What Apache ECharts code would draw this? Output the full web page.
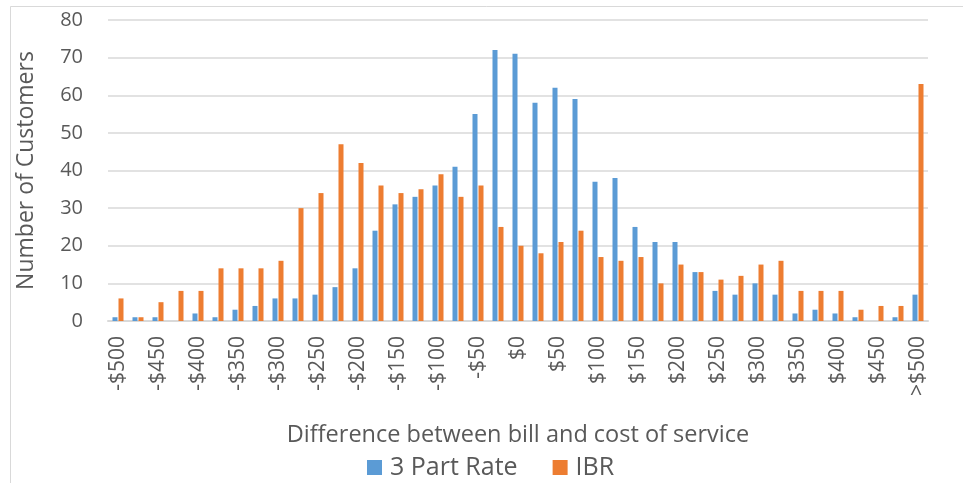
<!DOCTYPE html>
<html>
<head>
<meta charset="utf-8">
<script src="https://cdn.jsdelivr.net/npm/echarts@6/dist/echarts.min.js"></script>
<style>
  html, body { margin: 0; padding: 0; background: #fff; }
  #chart { width: 963px; height: 483px; }
</style>
</head>
<body>
<div id="chart"></div>
<script>
// Bins of (bill - cost of service), $25 wide, with an overflow bin at the end
const categories = [
  '-$500', '-$475', '-$450', '-$425', '-$400', '-$375', '-$350', '-$325', '-$300', '-$275',
  '-$250', '-$225', '-$200', '-$175', '-$150', '-$125', '-$100', '-$75', '-$50', '-$25',
  '$0', '$25', '$50', '$75', '$100', '$125', '$150', '$175', '$200', '$225',
  '$250', '$275', '$300', '$325', '$350', '$375', '$400', '$425', '$450', '$475',
  '>$500'
];

const threePartRate = [
  1, 1, 1, 0, 2, 1, 3, 4, 6, 6,
  7, 9, 14, 24, 31, 33, 36, 41, 55, 72,
  71, 58, 62, 59, 37, 38, 25, 21, 21, 13,
  8, 7, 10, 7, 2, 3, 2, 1, 0, 1,
  7
];

const ibr = [
  6, 1, 5, 8, 8, 14, 14, 14, 16, 30,
  34, 47, 42, 36, 34, 35, 39, 33, 36, 25,
  20, 18, 21, 24, 17, 16, 17, 10, 15, 13,
  11, 12, 15, 16, 8, 8, 8, 3, 4, 4,
  63
];

const yTicks = { min: 0, max: 80, interval: 10 };

const textColor = '#595959';
const fontFamily = '"Open Sans", "Noto Sans", sans-serif';

const chart = echarts.init(document.getElementById('chart'), null, { renderer: 'canvas' });

chart.setOption({
  animation: false,
  backgroundColor: '#fff',
  graphic: [{
    type: 'polyline',
    shape: { points: [[10.5, 483], [10.5, 6.5], [963, 6.5]] },
    style: { stroke: '#d9d9d9', lineWidth: 1, fill: null },
    silent: true
  }],
  grid: { left: 108, right: 35, top: 20, bottom: 162, containLabel: false },
  legend: {
    left: 362,
    top: 450,
    itemWidth: 15,
    itemHeight: 15,
    itemGap: 35,
    icon: 'rect',
    textStyle: { color: textColor, fontSize: 25, fontFamily: fontFamily, padding: [0, 0, 0, 3] },
    data: ['3 Part Rate', 'IBR']
  },
  xAxis: {
    type: 'category',
    data: categories,
    name: 'Difference between bill and cost of service',
    nameLocation: 'middle',
    nameGap: 102,
    nameTextStyle: { color: textColor, fontSize: 23.5, fontFamily: fontFamily },
    axisLine: { lineStyle: { color: '#d9d9d9', width: 2 } },
    axisTick: { show: false },
    axisLabel: {
      interval: 1,
      rotate: 90,
      margin: 15,
      color: textColor,
      fontSize: 21,
      fontFamily: fontFamily
    }
  },
  yAxis: {
    type: 'value',
    min: yTicks.min,
    max: yTicks.max,
    interval: yTicks.interval,
    name: 'Number of Customers',
    nameLocation: 'middle',
    nameGap: 70,
    nameTextStyle: { color: textColor, fontSize: 23, fontFamily: fontFamily },
    axisLine: { show: false },
    axisTick: { show: false },
    axisLabel: { color: textColor, fontSize: 20, fontFamily: fontFamily, margin: 25 },
    splitLine: { lineStyle: { color: '#d9d9d9', width: 1.5 } }
  },
  series: [
    {
      name: '3 Part Rate',
      type: 'bar',
      data: threePartRate,
      barWidth: 5,
      barGap: '20%',
      itemStyle: { color: '#5B9BD5' }
    },
    {
      name: 'IBR',
      type: 'bar',
      data: ibr,
      barWidth: 5,
      itemStyle: { color: '#ED7D31' }
    }
  ]
});
</script>
</body>
</html>
